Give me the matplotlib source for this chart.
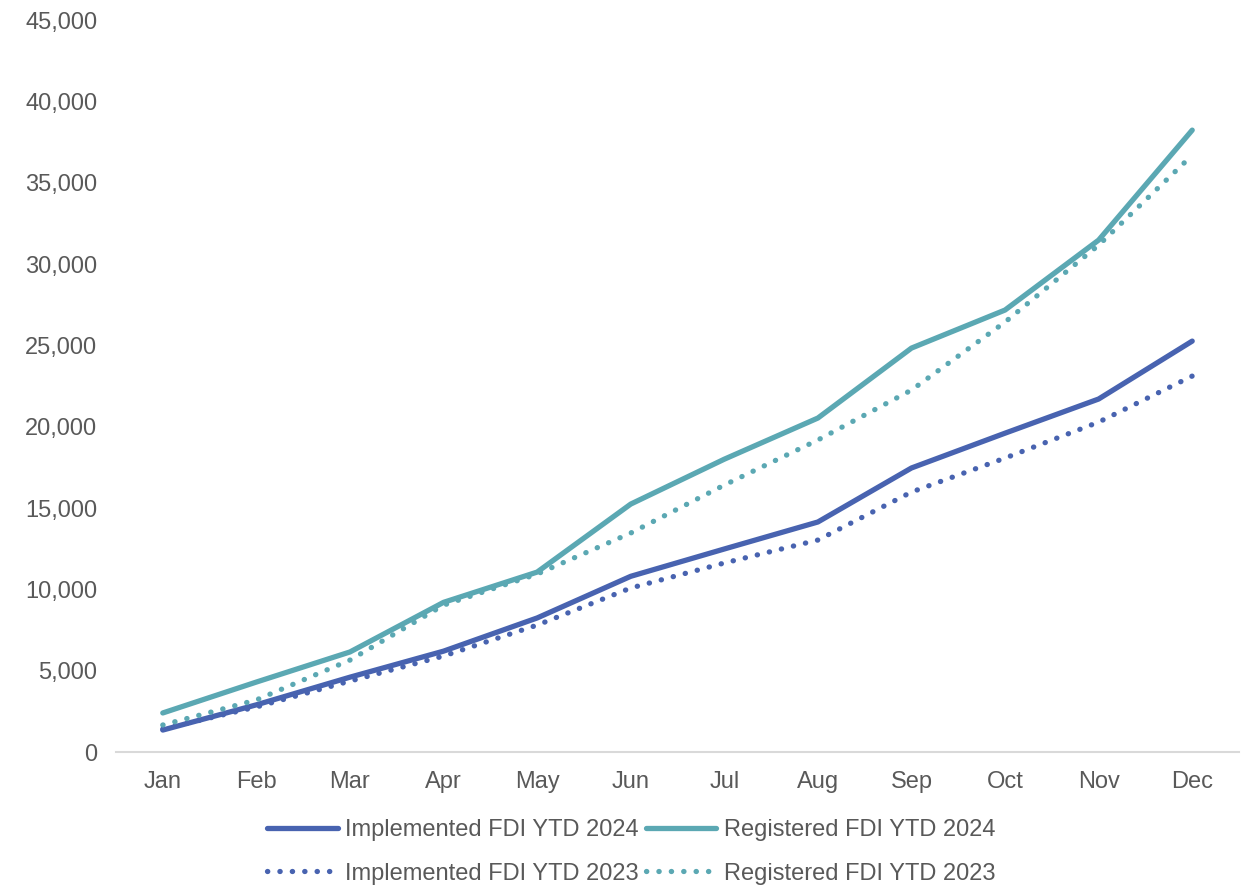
import matplotlib
matplotlib.use("Agg")
import matplotlib.pyplot as plt
from matplotlib.ticker import FuncFormatter

months = ["Jan", "Feb", "Mar", "Apr", "May", "Jun", "Jul", "Aug", "Sep", "Oct", "Nov", "Dec"]
implemented_2024 = [1350, 2900, 4600, 6200, 8240, 10800, 12480, 14140, 17460, 19600, 21700, 25260]
registered_2024 = [2400, 4300, 6150, 9200, 11060, 15240, 18000, 20530, 24830, 27170, 31470, 38230]
implemented_2023 = [1410, 2770, 4360, 5900, 7800, 10080, 11620, 13030, 15980, 18070, 20280, 23110]
registered_2023 = [1660, 3200, 5650, 9030, 10940, 13460, 16410, 19180, 22250, 26430, 31160, 36690]

BLUE = "#4863B0"
TEAL = "#5BA8B3"
TXT = "#595959"

plt.rcParams["font.family"] = ["Liberation Sans", "DejaVu Sans"]

fig = plt.figure(figsize=(12.43, 8.88), dpi=100)
ax = fig.add_axes([116/1243, (888-752)/888, (1239-116)/1243, (752-20)/888])

x = list(range(len(months)))
LW = 3.8
DOT = (0, (0.05, 2.3))
l1, = ax.plot(x, implemented_2024, color=BLUE, lw=LW, solid_capstyle="round", label="Implemented FDI YTD 2024")
l2, = ax.plot(x, registered_2024, color=TEAL, lw=LW, solid_capstyle="round", label="Registered FDI YTD 2024")
l3, = ax.plot(x, implemented_2023, color=BLUE, lw=LW, linestyle=DOT, dash_capstyle="round", label="Implemented FDI YTD 2023")
l4, = ax.plot(x, registered_2023, color=TEAL, lw=LW, linestyle=DOT, dash_capstyle="round", label="Registered FDI YTD 2023")

ax.set_xlim(-0.5, 11.5)
ax.set_ylim(0, 45000)
ax.set_yticks(range(0, 45001, 5000))
ax.yaxis.set_major_formatter(FuncFormatter(lambda v, p: f"{int(v):,}"))
ax.set_xticks(x)
ax.set_xticklabels(months)

for s in ["top", "right", "left"]:
    ax.spines[s].set_visible(False)
ax.spines["bottom"].set_color("#D9D9D9")
ax.spines["bottom"].set_linewidth(1.5)
ax.tick_params(axis="both", length=0, labelsize=17, labelcolor=TXT)
ax.tick_params(axis="y", pad=13.5)
ax.tick_params(axis="x", pad=13.5)

leg = fig.legend(handles=[l1, l3, l2, l4], ncol=2, loc="center", bbox_to_anchor=(631/1243, (888-852)/888),
                 frameon=False, fontsize=17, labelcolor=TXT, handlelength=3.0, handletextpad=0.3,
                 columnspacing=0.3, labelspacing=0.9)

fig.savefig("out.png", dpi=100, facecolor="white")
